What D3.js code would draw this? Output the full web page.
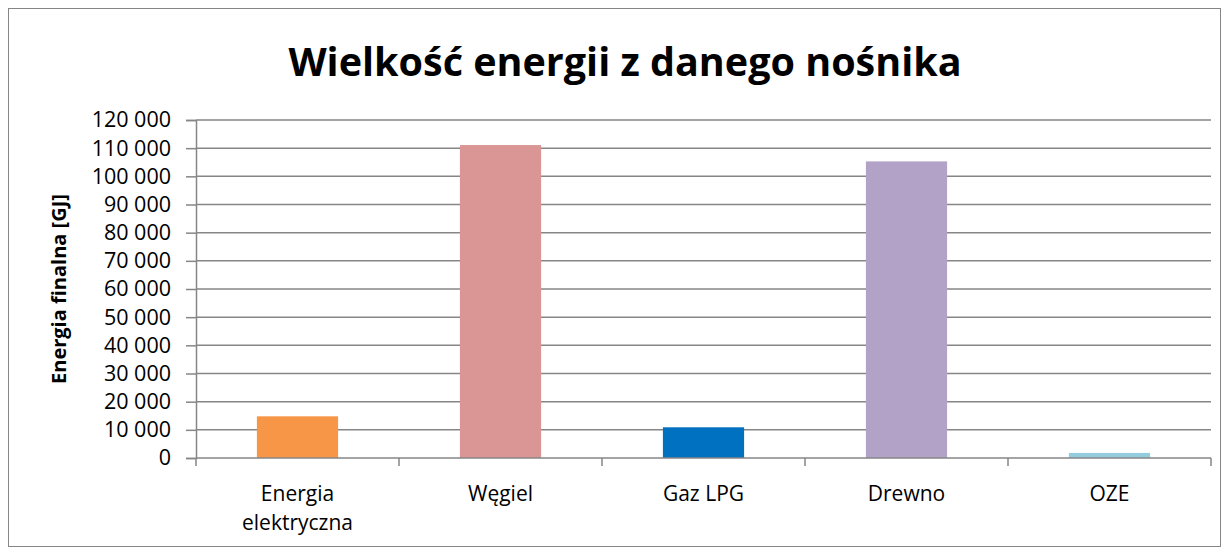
<!DOCTYPE html>
<html>
<head>
<meta charset="utf-8">
<script src="https://cdn.jsdelivr.net/npm/d3@7"></script>
<style>
  body { margin: 0; background: #fff; }
  svg text { font-family: "Open Sans", "DejaVu Sans", sans-serif; fill: #000; }
</style>
</head>
<body>
<svg id="chart" width="1229" height="552"></svg>
<script>
// data
var categories = ["Energia elektryczna", "Węgiel", "Gaz LPG", "Drewno", "OZE"]
var values = [14800, 111100, 10900, 105300, 1800]
var colors = ["#F79646", "#D99694", "#0070C0", "#B3A2C7", "#93CDDD"]
var yTicks = d3.range(0, 120001, 10000)

var svg = d3.select('#chart')

var plotLeft = 196, plotRight = 1211, plotTop = 120, plotBottom = 458

var x = d3.scaleBand()
    .domain(categories)
    .range([plotLeft, plotRight])
    .paddingInner(0.6)
    .paddingOuter(0.3)

var y = d3.scaleLinear()
    .domain([0, 120000])
    .range([plotBottom, plotTop])

var fmt = function(v) { return d3.format(",")(v).replace(/,/g, " ") }

// outer border
svg.append("rect")
    .attr("x", 8.5).attr("y", 8.5)
    .attr("width", 1212).attr("height", 538)
    .attr("fill", "#fff")
    .attr("stroke", "#868686")
    .attr("stroke-width", 1)

// title
svg.append("text")
    .attr("x", 625).attr("y", 76)
    .attr("text-anchor", "middle")
    .style("font-size", "39.5px")
    .style("font-weight", "bold")
    .text("Wielkość energii z danego nośnika")

// gridlines
svg.append("g")
    .selectAll("line")
    .data(yTicks.filter(function(d) { return d > 0 }))
    .enter().append("line")
      .attr("x1", plotLeft).attr("x2", plotRight)
      .attr("y1", function(d) { return y(d) }).attr("y2", function(d) { return y(d) })
      .attr("stroke", "#868686")
      .attr("stroke-width", 1.5)

// y axis
var yAxis = svg.append("g")
    .attr("transform", "translate(" + plotLeft + ",0)")
    .call(d3.axisLeft(y).tickValues(yTicks).tickFormat(fmt).tickSize(10).tickPadding(15))
yAxis.select(".domain").attr("stroke", "#868686").attr("stroke-width", 1.5)
yAxis.selectAll(".tick line").attr("stroke", "#868686").attr("stroke-width", 1.5)
yAxis.selectAll("text").style("font-size", "21.5px").attr("font-family", null)

// bars
svg.append("g")
    .selectAll("rect")
    .data(values)
    .enter().append("rect")
      .attr("x", function(d, i) { return x(categories[i]) })
      .attr("width", x.bandwidth())
      .attr("y", function(d) { return y(d) })
      .attr("height", function(d) { return plotBottom - y(d) })
      .attr("fill", function(d, i) { return colors[i] })

// x axis
var step = (plotRight - plotLeft) / categories.length
svg.append("line")
    .attr("x1", plotLeft).attr("x2", plotRight)
    .attr("y1", plotBottom).attr("y2", plotBottom)
    .attr("stroke", "#868686").attr("stroke-width", 1.5)
svg.append("g")
    .selectAll("line")
    .data(d3.range(categories.length + 1))
    .enter().append("line")
      .attr("x1", function(i) { return plotLeft + i * step })
      .attr("x2", function(i) { return plotLeft + i * step })
      .attr("y1", plotBottom).attr("y2", plotBottom + 8)
      .attr("stroke", "#868686").attr("stroke-width", 1.5)

var labels = svg.append("g")
    .selectAll("text")
    .data(categories)
    .enter().append("text")
      .attr("text-anchor", "middle")
      .attr("x", function(d) { return x(d) + x.bandwidth() / 2 })
      .attr("y", 501)
      .style("font-size", "21px")

labels.each(function(d) {
    var t = d3.select(this)
    var words = d === "Energia elektryczna" ? ["Energia", "elektryczna"] : [d]
    words.forEach(function(w, i) {
        t.append("tspan")
            .attr("x", t.attr("x"))
            .attr("dy", i === 0 ? 0 : 29)
            .text(w)
    })
})

// y axis title
svg.append("text")
    .attr("transform", "translate(66," + ((plotTop + plotBottom) / 2) + ") rotate(-90)")
    .attr("text-anchor", "middle")
    .style("font-size", "20px")
    .style("font-weight", "bold")
    .text("Energia finalna [GJ]")
</script>
</body>
</html>
